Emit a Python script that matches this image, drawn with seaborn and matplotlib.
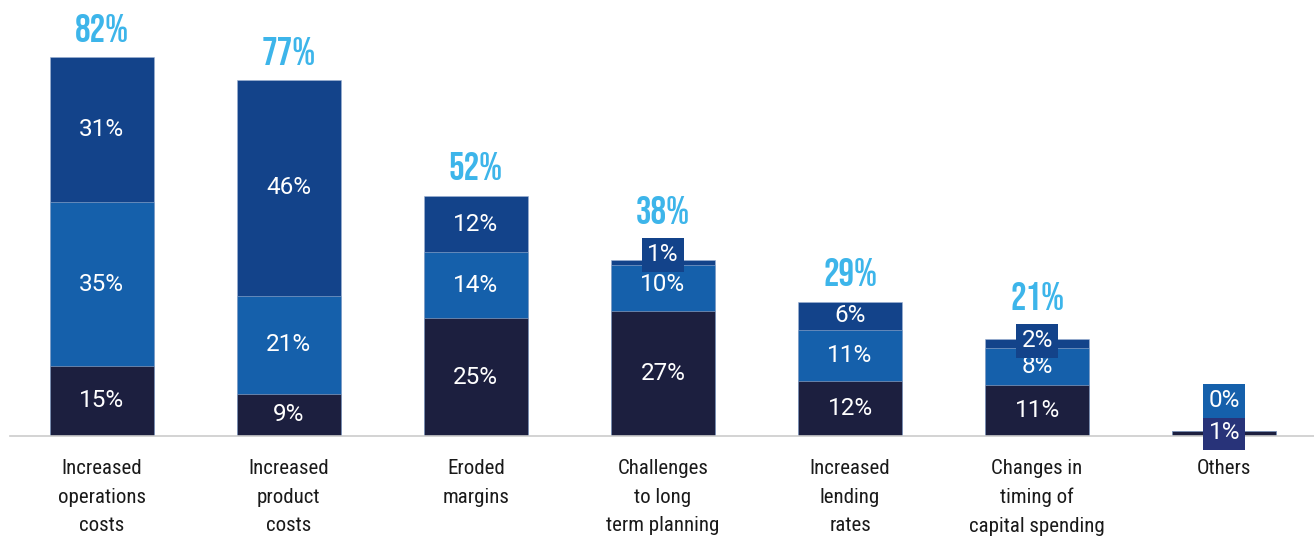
import matplotlib
matplotlib.use("Agg")
import matplotlib.pyplot as plt
from matplotlib import font_manager
import seaborn as sns
import pandas as pd
import numpy as np

categories = ["Increased\noperations\ncosts", "Increased\nproduct\ncosts", "Eroded\nmargins",
              "Challenges\nto long\nterm planning", "Increased\nlending\nrates",
              "Changes in\ntiming of\ncapital spending", "Others"]
bottom_vals = [15, 9, 25, 27, 12, 11, 1]
middle_vals = [35, 21, 14, 10, 11, 8, 0]
top_vals = [31, 46, 12, 1, 6, 2, 0]
totals = [82, 77, 52, 38, 29, 21, 1]
show_total = [True, True, True, True, True, True, False]

C_BOT = "#1c1f3f"
C_MID = "#1560ab"
C_TOP = "#13438a"
C_TOTAL = "#3db5ea"
C_OTH = "#283379"

fonts = font_manager.fontManager.ttflist
names = {f.name for f in fonts}


def pick(cands):
    for c in cands:
        if c in names:
            return c
    return "DejaVu Sans"


def has_bold(name):
    return any(f.name == name and int(f.weight) >= 600 for f in fonts)


if has_bold("Oswald"):
    cond_bold, cond_w = "Oswald", 700
elif "Bebas Neue" in names:
    cond_bold, cond_w = "Bebas Neue", 400
else:
    cond_bold, cond_w = pick(["Barlow Condensed", "Asap Condensed"]), 700
cond_reg = pick(["Roboto Condensed", "Barlow Semi Condensed", "Archivo Narrow", "Asap Condensed"])
regular = pick(["Roboto", "Noto Sans"])

sns.set_theme(style="white")
plt.rcParams["font.family"] = [regular, "DejaVu Sans"]

fig = plt.figure(figsize=(13.14, 5.41), dpi=100)
ax = fig.add_axes([10 / 1314, 105 / 541, 1304 / 1314, 436 / 541])

# scale segments so stacks reach the stated totals
b = np.array(bottom_vals, float)
m = np.array(middle_vals, float)
t = np.array(top_vals, float)
s = b + m + t
k = np.array(totals, float) / s
b, m, t = b * k, m * k, t * k

df = pd.DataFrame({"cat": categories, "c3": b + m + t, "c2": b + m, "c1": b})
W = 0.556
for col, colr in [("c3", C_TOP), ("c2", C_MID), ("c1", C_BOT)]:
    sns.barplot(data=df, x="cat", y=col, color=colr, saturation=1, width=W,
                errorbar=None, ax=ax, edgecolor="#9fb3d3", linewidth=0.4, order=categories)

FS = 17.5
for i in range(len(categories)):
    segs = [(bottom_vals[i], 0, b[i], C_BOT), (middle_vals[i], b[i], m[i], C_MID),
            (top_vals[i], b[i] + m[i], t[i], C_TOP)]
    if i == 6:
        ax.text(i, 0.7, f"{bottom_vals[i]}%", ha="center", va="center", color="white", fontsize=FS,
                bbox=dict(boxstyle="square,pad=0.22", fc=C_OTH, ec="none"))
        ax.text(i, 7.6, f"{middle_vals[i]}%", ha="center", va="center", color="white", fontsize=FS,
                bbox=dict(boxstyle="square,pad=0.22", fc=C_MID, ec="none"))
        continue
    top_extra = 0
    for val, y0, h, colr in segs:
        if val >= 4:
            yc = y0 + h / 2
            if colr == C_MID and top_vals[i] == 1:
                yc += 0.9
            ax.text(i, yc, f"{val}%", ha="center", va="center", color="white", fontsize=FS)
        else:
            yc = y0 + h / 2 + (1.7 if val == 1 else 0.6)
            ax.text(i, yc, f"{val}%", ha="center", va="center", color="white", fontsize=FS,
                    bbox=dict(boxstyle="square,pad=0.22", fc=colr, ec="none"))
            top_extra = yc + 3.2 - totals[i]
    if show_total[i]:
        fsz = 25 if cond_bold == "Oswald" else 28
        ax.text(i, totals[i] + max(top_extra, 0) + 3.4, f"{totals[i]}%", ha="center", va="baseline",
                color=C_TOTAL, fontsize=fsz, fontweight=cond_w, family=[cond_bold, "DejaVu Sans"])

ax.set_xlim(-0.49, 6.48)
ax.set_ylim(0, 94.4)
ax.set_yticks([])
ax.set_xlabel("")
ax.set_ylabel("")
for sp in ["left", "right", "top"]:
    ax.spines[sp].set_visible(False)
ax.spines["bottom"].set_color("#cccccc")
ax.spines["bottom"].set_linewidth(1.2)
ax.tick_params(axis="x", length=0, pad=16.5)
ax.set_xticks(range(len(categories)))
ax.set_xticklabels(categories, fontsize=15, color="#1a1a1a", linespacing=1.64,
                   family=[cond_reg, "DejaVu Sans"])

fig.savefig("out.png", dpi=100)
